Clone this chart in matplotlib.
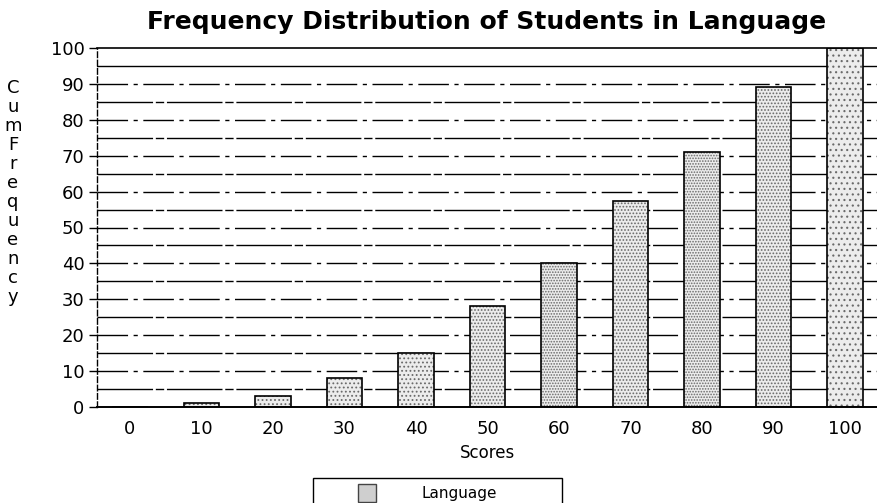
import matplotlib.pyplot as plt
from matplotlib.lines import Line2D

# datos
scores = [0, 10, 20, 30, 40, 50, 60, 70, 80, 90, 100]
cum_freq = [0, 1, 3, 8, 15, 28, 40, 57.5, 71, 89, 100]
y_ticks = [0, 10, 20, 30, 40, 50, 60, 70, 80, 90, 100]

plt.rcParams['font.family'] = ['DejaVu Sans']
plt.rcParams['hatch.linewidth'] = 0.8

fig = plt.figure(figsize=(8.77, 5.03), dpi=100)
ax = fig.add_axes([97/877, 1-407/503, 781/877, 359/503])

x = list(range(len(scores)))
ax.set_xlim(-0.46, len(scores) - 0.54)
ax.set_ylim(0, 100)

# lineas de fondo cada 5 (las de 10 mas cortadas)
for v in range(5, 100, 5):
    if v == 95:
        ls = '-'
    elif v % 10 == 5:
        ls = (0, (40, 2, 6, 2))
    else:
        ls = (0, (22, 4, 3, 4))
    ax.axhline(v, color='black', lw=1.0, ls=ls, zorder=1)

hatches = ['....', '....', '....', '....', '....', '.....', '......', '.....', '......', '.....', '...']
bars = ax.bar(x, cum_freq, width=0.5, color='#ececec', edgecolor='#6a6a6a', lw=0, zorder=2)
for b, h in zip(bars, hatches):
    b.set_hatch(h)
ax.bar(x, cum_freq, width=0.5, color='none', edgecolor='black', lw=1.2, zorder=3)

ax.spines['right'].set_visible(False)
ax.spines['left'].set_linestyle((0, (4, 2)))
ax.spines['left'].set_linewidth(1.0)
ax.spines['top'].set_linewidth(1.2)
ax.spines['bottom'].set_linewidth(1.4)

ax.set_yticks(y_ticks)
ax.set_xticks(x)
ax.set_xticklabels([str(s) for s in scores])
ax.tick_params(axis='y', length=6, width=1, labelsize=13, pad=3)
ax.tick_params(axis='x', length=0, labelsize=13, pad=9)

ax.set_xlabel('Scores', fontsize=12, labelpad=5)
fig.text(487/877, 1-22/503, 'Frequency Distribution of Students in Language',
         ha='center', va='center', fontsize=18, fontweight='bold')

# etiqueta vertical letra por letra
label = 'CumFrequency'
for i, ch in enumerate(label):
    fig.text(13/877, 1-(88 + i*19)/503, ch, ha='center', va='center', fontsize=13)

handle = Line2D([], [], ls='none', marker='s', markersize=13,
                markerfacecolor='#cfcfcf', markeredgecolor='#444444')
fig.legend([handle], ['Language'], loc='upper left',
           bbox_to_anchor=(305/877, 0, 265/877, 1-470/503), mode='expand',
           fancybox=False, edgecolor='black', fontsize=11, borderpad=0.55,
           handlelength=6, handletextpad=0.6, framealpha=1)

fig.savefig('out.png', dpi=100)
